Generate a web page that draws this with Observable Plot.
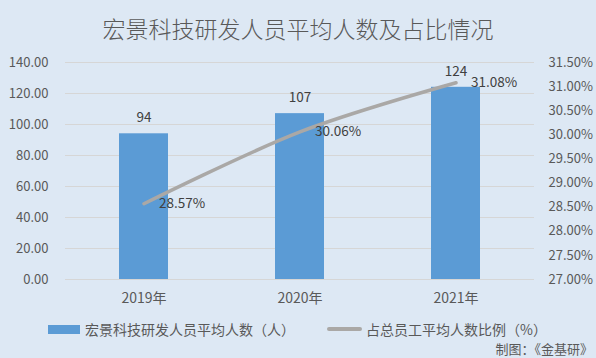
<!DOCTYPE html>
<html><head><meta charset="utf-8">
<script src="https://cdn.jsdelivr.net/npm/d3@7"></script>
<script src="https://cdn.jsdelivr.net/npm/@observablehq/plot@0.6"></script>
<style>
html,body{margin:0;padding:0;}
#wrap{width:596px;height:358px;background:#dde8f4;font-family:"Noto Sans CJK SC","Noto Sans",sans-serif;position:relative;overflow:hidden;}
#title{height:48px;line-height:56px;text-align:center;font-size:23px;color:#595959;font-weight:300;}
#legend{position:absolute;left:0;top:312px;width:596px;height:46px;font-size:14px;color:#595959;}
.item{position:absolute;top:8px;display:flex;align-items:center;height:18px;}
.sw{display:inline-block;}
#caption{position:absolute;right:3px;top:28px;font-size:13px;line-height:18px;color:#595959;}
svg{display:block;}
</style></head>
<body><div id="wrap">
<div id="title">宏景科技研发人员平均人数及占比情况</div>
<div id="chart"></div>
<div id="legend">
  <div class="item" style="left:48px"><span class="sw" style="width:32px;height:9px;background:#5b9bd5;margin-right:5px"></span><span>宏景科技研发人员平均人数（人）</span></div>
  <div class="item" style="left:327px"><span class="sw" style="width:35px;height:3.5px;background:#aaa8a6;border-radius:2px;margin-right:4px"></span><span>占总员工平均人数比例（%）</span></div>
  <div id="caption">制图：《金基研》</div>
</div>
</div>
<script>
const years = ["2019年", "2020年", "2021年"];
const staff = [94, 107, 124];
const ratio = [28.57, 30.06, 31.08];
const leftTicks = [0, 20, 40, 60, 80, 100, 120, 140];
const rightTicks = [27.0, 27.5, 28.0, 28.5, 29.0, 29.5, 30.0, 30.5, 31.0, 31.5];

const rMin = 27, rMax = 31.5, yMax = 140;
const toLeft = p => (p - rMin) / (rMax - rMin) * yMax;
const toRight = v => v / yMax * (rMax - rMin) + rMin;

const data = years.map((y, i) => ({year: y, staff: staff[i], ratio: ratio[i], ry: toLeft(ratio[i])}));

const font = '"Noto Sans CJK SC","Noto Sans",sans-serif';
const chart = Plot.plot({
  width: 596, height: 264,
  marginLeft: 65, marginRight: 62, marginTop: 14, marginBottom: 33,
  style: {background: "transparent", fontFamily: font, fontSize: "13px", color: "#595959"},
  x: {domain: years, paddingInner: 0.686, paddingOuter: 0.343, label: null},
  y: {domain: [0, yMax], label: null},
  marks: [
    Plot.gridY(leftTicks, {stroke: "#d6d6d6", strokeOpacity: 1}),
    Plot.axisY({ticks: leftTicks, tickSize: 0, tickPadding: 17, tickFormat: d => d.toFixed(2), label: null, fontSize: 13, fill: "#595959"}),
    Plot.axisY({anchor: "right", ticks: rightTicks.map(toLeft), tickSize: 0, tickPadding: 14, tickFormat: v => toRight(v).toFixed(2) + "%", label: null, fontSize: 13, fill: "#595959"}),
    Plot.axisX({tickSize: 0, tickPadding: 14, label: null, fontSize: 14, fill: "#595959"}),
    Plot.barY(data, {x: "year", y: "staff", fill: "#5b9bd5"}),
    Plot.line(data, {x: "year", y: "ry", stroke: "#aaa8a6", strokeWidth: 3.5, curve: d3.curveCatmullRom.alpha(0)}),
    Plot.text(data, {x: "year", y: "staff", text: d => String(d.staff), dy: -16, fill: "#404040", fontSize: 13.5}),
    Plot.text(data, {x: "year", y: "ry", text: d => d.ratio.toFixed(2) + "%", dx: 15, textAnchor: "start", fill: "#404040", fontSize: 13.5})
  ]
});
document.getElementById("chart").appendChild(chart);
</script>
</body></html>
